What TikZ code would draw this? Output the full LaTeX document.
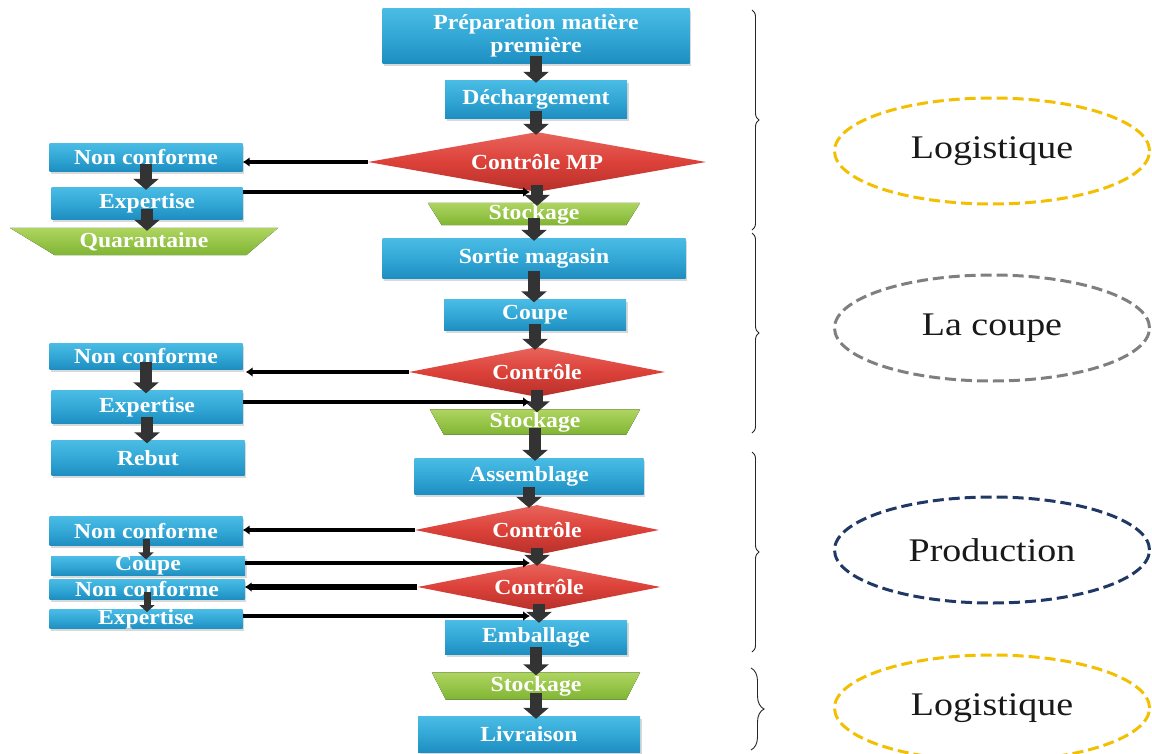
\documentclass[tikz,border=0pt]{standalone}
\usepackage{fontspec}
\setmainfont{Liberation Serif}
\newfontfamily\boxfont[FakeStretch=1.1]{Liberation Serif}
\newfontfamily\zonefont[FakeStretch=1.15]{Liberation Serif}
\usetikzlibrary{shapes.geometric,arrows.meta,decorations.pathreplacing,shadows,backgrounds,calc}

\definecolor{bluetop}{HTML}{4ABCE5}
\definecolor{bluemid}{HTML}{33A8D6}
\definecolor{bluebot}{HTML}{1D8EC1}
\definecolor{redtop}{HTML}{E8645C}
\definecolor{redmid}{HTML}{DC4139}
\definecolor{redbot}{HTML}{B5302A}
\definecolor{greentop}{HTML}{AED560}
\definecolor{greenbot}{HTML}{80B533}
\definecolor{zoneyellow}{HTML}{F2C000}
\definecolor{zonegray}{HTML}{7F7F7F}
\definecolor{zonenavy}{HTML}{1F3864}
\definecolor{arrowgray}{HTML}{333333}

\tikzset{
  x=1pt, y=-1pt,
  boxtext/.style={font=\boxfont\bfseries\fontsize{21.5}{23}\selectfont,
    text=white, align=center, inner sep=0pt},
  procbox/.style={boxtext, rectangle, top color=bluetop, bottom color=bluebot,
    middle color=bluemid,
    drop shadow={shadow xshift=1.5pt, shadow yshift=-2.5pt, opacity=0.3}},
  decision/.style={boxtext, diamond, aspect=5, top color=redtop,
    bottom color=redbot, middle color=redmid},
  storetext/.style={boxtext, rectangle},
  flowarrow/.style={draw=arrowgray, line width=12pt,
    -{Triangle[width=25pt,length=11pt]}},
  smallflow/.style={draw=arrowgray, line width=7pt,
    -{Triangle[width=15pt,length=7pt]}},
  backarrow/.style={draw=black, line width=4pt,
    -{Latex[length=7pt,width=10pt]}},
  zonebrace/.style={draw=black!85, line width=0.9pt, decorate,
    decoration={brace, amplitude=#1}},
  zone/.style={ellipse, minimum width=315pt, minimum height=106pt,
    line width=3pt, dash pattern=on 11pt off 5pt, inner sep=0pt,
    text=black!90, font=\zonefont\fontsize{33}{36}\selectfont},
}

% vertical flow arrow, kept at the x of the upper node
\newcommand\flowstep[3][flowarrow]{%
  \draw[#1] ($(#2.south)+(0,-7)$) -- ($(#3.north -| #2.south)+(0,3)$);}

\begin{document}
\begin{tikzpicture}
\useasboundingbox (0,0) rectangle (1152,753);
\clip (0,0) rectangle (1152,753);

% main process column
\node[procbox, minimum width=307pt, minimum height=55pt] (prep) at (536,35.5) {Préparation matière\\première};
\node[procbox, minimum width=182pt, minimum height=38pt] (dech) at (536,99) {Déchargement};
\node[decision, minimum width=338pt, minimum height=60pt] (cmp) at (537,162) {Contrôle MP};
\node[storetext, minimum width=212pt, minimum height=22pt] (stk1) at (534,214) {Stockage};
\node[procbox, minimum width=303pt, minimum height=40pt] (sortie) at (534,258) {Sortie magasin};
\node[procbox, minimum width=182pt, minimum height=31pt] (coupe) at (535,315) {Coupe};
\node[decision, minimum width=256pt, minimum height=50pt] (ctla) at (537,372) {Contrôle};
\node[storetext, minimum width=210pt, minimum height=25pt] (stk2) at (535,422) {Stockage};
\node[procbox, minimum width=229pt, minimum height=36pt] (assem) at (529,476) {Assemblage};
\node[decision, minimum width=244pt, minimum height=50pt] (ctlb) at (537,530) {Contrôle};
\node[decision, minimum width=243pt, minimum height=48pt] (ctlc) at (539,587) {Contrôle};
\node[procbox, minimum width=182pt, minimum height=34pt] (emb) at (536,637) {Emballage};
\node[storetext, minimum width=208pt, minimum height=27pt] (stk3) at (536,686) {Stockage};
\node[procbox, minimum width=222pt, minimum height=36pt] (livr) at (529,734) {Livraison};

% side column: non-conformity handling
\node[procbox, minimum width=193pt, minimum height=28pt] (nca) at (146,157) {Non conforme};
\node[procbox, minimum width=191pt, minimum height=32pt] (expa) at (147,203) {Expertise};
\node[storetext, minimum width=268pt, minimum height=27pt] (quar) at (144,241.5) {Quarantaine};
\node[procbox, minimum width=193pt, minimum height=26pt] (ncb) at (146,356) {Non conforme};
\node[procbox, minimum width=191pt, minimum height=33pt] (expb) at (147,407) {Expertise};
\node[procbox, minimum width=193pt, minimum height=35pt] (rebut) at (148,458) {Rebut};
\node[procbox, minimum width=193pt, minimum height=29pt] (ncc) at (146,531) {Non conforme};
\node[procbox, minimum width=194pt, minimum height=16pt] (coupeb) at (148,566) {Coupe};
\node[procbox, minimum width=195pt, minimum height=20pt] (ncd) at (147,589) {Non conforme};
\node[procbox, minimum width=193pt, minimum height=16pt] (expc) at (146,619) {Expertise};

% storage trapezia behind their labels
\begin{pgfonlayer}{background}
\foreach \n/\l/\r in {stk1/14/14, stk2/14/14, stk3/14/14, quar/45/32}{
  \fill[top color=greentop, bottom color=greenbot]
    (\n.north west) -- (\n.north east) -- ([xshift=-\r pt]\n.south east)
    -- ([xshift=\l pt]\n.south west) -- cycle;
}
\end{pgfonlayer}

% main flow
\flowstep{prep}{dech}
\flowstep{dech}{cmp}
\flowstep{cmp}{stk1}
\flowstep{stk1}{sortie}
\flowstep{sortie}{coupe}
\flowstep{coupe}{ctla}
\flowstep{ctla}{stk2}
\flowstep{stk2}{assem}
\flowstep{assem}{ctlb}
\flowstep{ctlb}{ctlc}
\flowstep{ctlc}{emb}
\flowstep{emb}{stk3}
\flowstep{stk3}{livr}

% side flows
\flowstep{nca}{expa}
\draw[flowarrow] ($(expa.south)+(0,-10)$) -- ($(quar.north -| expa.south)+(0,3)$);
\flowstep{ncb}{expb}
\flowstep{expb}{rebut}
\flowstep[smallflow]{ncc}{coupeb}
\flowstep[smallflow]{ncd}{expc}

% rejections and returns
\coordinate (ja) at (530,192);
\coordinate (jb) at (530,402);
\coordinate (jc) at (530,563);
\coordinate (jd) at (530,616);
\draw[backarrow] (cmp.west) -- (nca.east |- cmp.west);
\draw[backarrow] (expa.east |- ja) -- (ja);
\draw[backarrow] (ctla.west) -- ($(ncb.east |- ctla.west)+(3,0)$);
\draw[backarrow] (expb.east |- jb) -- (jb);
\draw[backarrow] (ctlb.west) -- (ncc.east |- ctlb.west);
\draw[backarrow] (coupeb.east |- jc) -- (jc);
\draw[backarrow, line width=6pt] (ctlc.west) -- (ncd.east |- ctlc.west);
\draw[backarrow] (expc.east |- jd) -- (jd);

% braces grouping the stages
\draw[zonebrace=7pt] (752,10) -- (752,230);
\draw[zonebrace=7pt] (752,233) -- (752,433);
\draw[zonebrace=7pt] (752,452) -- (752,652);
\draw[zonebrace=13pt] (751,668) -- (751,750);

% stage labels
\node[zone, draw=zoneyellow] (zlog) at (992,151) {Logistique};
\node[zone, draw=zonegray] (zcoupe) at (992,328) {La coupe};
\node[zone, draw=zonenavy] (zprod) at (992,550) {Production};
\node[zone, draw=zoneyellow] (zlogb) at (992,708) {Logistique};
\end{tikzpicture}
\end{document}
